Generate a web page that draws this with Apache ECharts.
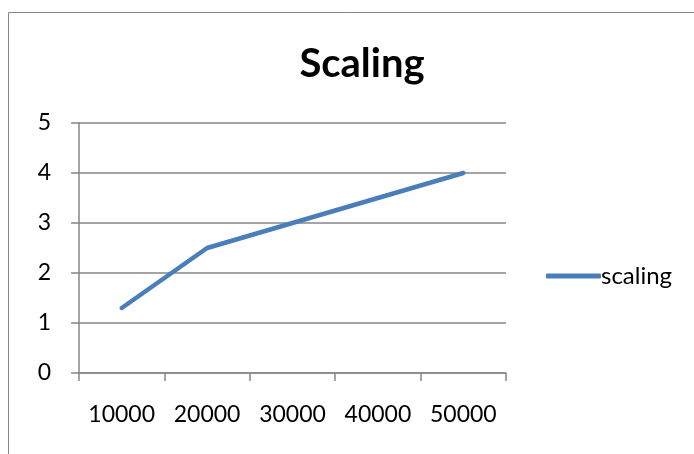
<!DOCTYPE html>
<html>
<head>
<meta charset="utf-8">
<script src="https://cdn.jsdelivr.net/npm/echarts@6/dist/echarts.min.js"></script>
<style>
  html, body { margin: 0; padding: 0; background: #fff; }
  #main { width: 694px; height: 454px; }
</style>
</head>
<body>
<div id="main"></div>
<script>
var categories = ['10000', '20000', '30000', '40000', '50000'];
var scaling = [1.3, 2.5, 3.0, 3.5, 4.0];
var yTicks = [0, 1, 2, 3, 4, 5];

var gray = '#868686';
var blue = '#4a7ebb';
var font = 'Lato, "Open Sans", sans-serif';

var myChart = echarts.init(document.getElementById('main'));
var option = {
    animation: false,
    backgroundColor: '#fff',
    title: {
        text: 'Scaling',
        left: 357,
        textAlign: 'center',
        top: 39,
        textStyle: { fontFamily: font, fontSize: 40, fontWeight: 'bold', color: '#000' }
    },
    graphic: [{
        type: 'rect',
        shape: { x: 8.5, y: 12.5, width: 700, height: 460 },
        style: { fill: 'none', stroke: gray, lineWidth: 1 },
        silent: true
    }],
    legend: {
        left: 541,
        top: 259,
        icon: 'roundRect',
        itemWidth: 55,
        itemHeight: 5,
        itemGap: 3,
        textStyle: { fontFamily: font, fontSize: 24, color: '#000', padding: [0, 0, 0, -5] },
        data: ['scaling']
    },
    grid: { left: 79, right: 188, top: 123, bottom: 81 },
    xAxis: {
        type: 'category',
        data: categories,
        boundaryGap: true,
        axisLine: { lineStyle: { color: gray, width: 1.5 } },
        axisTick: { show: true, interval: 0, length: 8, lineStyle: { color: gray, width: 1.5 } },
        axisLabel: { interval: 0, fontFamily: font, fontSize: 23, color: '#000', margin: 30 }
    },
    yAxis: {
        type: 'value',
        min: yTicks[0],
        max: yTicks[yTicks.length - 1],
        interval: 1,
        axisLine: { show: true, lineStyle: { color: gray, width: 1.5 } },
        axisTick: { show: true, length: 8, lineStyle: { color: gray, width: 1.5 } },
        splitLine: { lineStyle: { color: gray, width: 1.5 } },
        axisLabel: { fontFamily: font, fontSize: 23, color: '#000', margin: 28 }
    },
    series: [{
        name: 'scaling',
        type: 'line',
        data: scaling,
        symbol: 'none',
        color: blue,
        lineStyle: { color: blue, width: 4.5, cap: 'round', join: 'round' }
    }]
};
myChart.setOption(option);
</script>
</body>
</html>
